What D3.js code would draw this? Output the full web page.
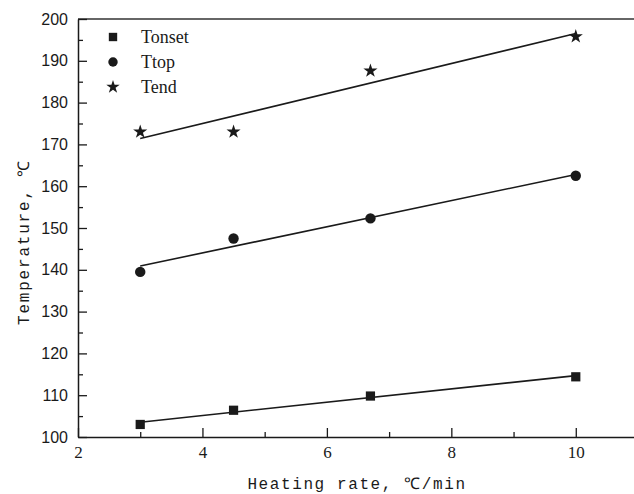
<!DOCTYPE html>
<html>
<head>
<meta charset="utf-8">
<script src="https://cdn.jsdelivr.net/npm/d3@7"></script>
<style>
  body { margin: 0; background: #fff; }
  svg { display: block; }
</style>
</head>
<body>
<svg id="viz"></svg>
<script>
var width = 634;
var height = 494;

// heating rates (℃/min)
var rates = [3, 4.5, 6.7, 10];
// measured temperatures
var tOnset = [103.0, 106.4, 109.8, 114.4];
var tTop = [139.5, 147.5, 152.3, 162.5];
var tEnd = [173.0, 173.0, 187.6, 195.8];

var seriesNames = ["Tonset", "Ttop", "Tend"];
var xTicks = [2, 4, 6, 8, 10];
var xMinor = [3, 5, 7, 9, 11];
var yTicks = [100, 110, 120, 130, 140, 150, 160, 170, 180, 190, 200];
var yMinor = [105, 115, 125, 135, 145, 155, 165, 175, 185, 195];

var margin = {top: 19, left: 78};
var plotW = 560, plotH = 418;
var ink = "#1a1a1a";

var svg = d3.select("#viz").attr("width", width).attr("height", height);
var g = svg.append("g").attr("transform", "translate(" + margin.left + "," + margin.top + ")");

var x = d3.scaleLinear().domain([2, 11]).range([0, plotW]);
var y = d3.scaleLinear().domain([100, 200]).range([plotH, 0]);

// top frame
g.append("line")
    .attr("x1", 0).attr("x2", plotW)
    .attr("y1", 0).attr("y2", 0)
    .attr("stroke", "#333").attr("stroke-width", 1.5);

// x axis (ticks inside)
var xAxis = g.append("g").attr("transform", "translate(0," + plotH + ")")
    .call(d3.axisBottom(x).tickValues(xTicks).tickSize(-9).tickSizeOuter(0).tickPadding(9));
g.append("g").attr("transform", "translate(0," + plotH + ")")
    .call(d3.axisBottom(x).tickValues(xMinor).tickSize(-5).tickSizeOuter(0).tickFormat(""))
    .call(function(s) { s.select(".domain").remove(); });
xAxis.attr("font-family", "'Liberation Serif', serif").attr("font-size", 17);
xAxis.selectAll("text").attr("fill", ink);

// y axis
var yAxis = g.append("g")
    .call(d3.axisLeft(y).tickValues(yTicks).tickSize(-9).tickSizeOuter(0).tickPadding(10));
g.append("g")
    .call(d3.axisLeft(y).tickValues(yMinor).tickSize(-5).tickSizeOuter(0).tickFormat(""))
    .call(function(s) { s.select(".domain").remove(); });
yAxis.attr("font-family", "'Liberation Sans', Arial, sans-serif").attr("font-size", 16);
yAxis.selectAll("text").attr("fill", ink);

g.selectAll(".domain").attr("stroke", ink).attr("stroke-width", 1.5);
g.selectAll(".tick line").attr("stroke", ink).attr("stroke-width", 1.3);

// axis titles
svg.append("text")
    .attr("x", margin.left + plotW / 2 - 1)
    .attr("y", 489)
    .attr("text-anchor", "middle")
    .style("font-family", "'Liberation Mono', monospace")
    .style("font-size", "16px")
    .style("letter-spacing", "1.6px")
    .attr("fill", ink)
    .text("Heating rate, ℃/min");

svg.append("text")
    .attr("transform", "translate(29,242) rotate(-90)")
    .attr("text-anchor", "middle")
    .style("font-family", "'Liberation Mono', monospace")
    .style("font-size", "16px")
    .style("letter-spacing", "1.8px")
    .attr("fill", ink)
    .text("Temperature, ℃");

// linear fit of each series
function fit(xs, ys) {
    var mx = d3.mean(xs), my = d3.mean(ys);
    var sxy = d3.sum(xs, function(v, i) { return (v - mx) * (ys[i] - my); });
    var sxx = d3.sum(xs, function(v) { return (v - mx) * (v - mx); });
    var b = sxy / sxx, a = my - b * mx;
    var ext = d3.extent(xs);
    return ext.map(function(v) { return [v, a + b * v]; });
}

var symbols = [d3.symbolSquare, d3.symbolCircle, d3.symbolStar];
var sizes = [85, 85, 62];
var allSeries = [tOnset, tTop, tEnd];

var line = d3.line().x(function(d) { return x(d[0]); }).y(function(d) { return y(d[1]); });

allSeries.forEach(function(vals, k) {
    g.append("path")
        .datum(fit(rates, vals))
        .attr("d", line)
        .attr("fill", "none")
        .attr("stroke", ink)
        .attr("stroke-width", 1.6);

    g.selectAll(".pt" + k)
        .data(vals)
        .enter()
        .append("path")
        .attr("class", "pt" + k)
        .attr("transform", function(d, i) { return "translate(" + x(rates[i]) + "," + y(d) + ")"; })
        .attr("d", d3.symbol().type(symbols[k]).size(sizes[k]))
        .attr("fill", ink);
});

// legend
var legend = svg.append("g").attr("transform", "translate(113,37)");
seriesNames.forEach(function(name, k) {
    var row = legend.append("g").attr("transform", "translate(0," + (k * 25) + ")");
    row.append("path")
        .attr("d", d3.symbol().type(symbols[k]).size([70, 70, 56][k]))
        .attr("fill", ink);
    row.append("text")
        .attr("x", 28)
        .attr("y", 6)
        .style("font-family", "'Liberation Serif', serif")
        .style("font-size", "18px")
        .attr("fill", ink)
        .text(name);
});
</script>
</body>
</html>
